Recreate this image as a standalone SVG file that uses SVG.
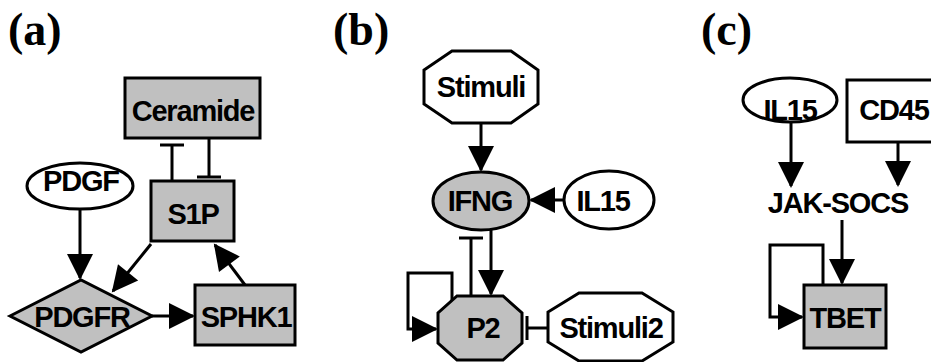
<svg xmlns="http://www.w3.org/2000/svg" width="931" height="362" viewBox="0 0 931 362">
<style>
.nd{stroke:#000;stroke-width:3}
.g{fill:#c0c0c0}
.w{fill:#fff}
.t{font-family:"Liberation Sans",Arial,sans-serif;font-weight:bold;font-size:29px;letter-spacing:-1.2px;text-anchor:middle;fill:#000}
.lb{font-family:"Liberation Serif","DejaVu Serif",serif;font-weight:bold;font-size:46px;fill:#000}
.e{fill:none;stroke:#000;stroke-width:3}
.a{marker-end:url(#arr)}
.i{marker-end:url(#bar)}
</style>
<defs>
<marker id="arr" markerUnits="userSpaceOnUse" markerWidth="26" markerHeight="26" refX="24" refY="13" orient="auto" overflow="visible">
<path d="M0,0 L26,13 L0,26 Z" fill="#000"/>
</marker>
<marker id="bar" markerUnits="userSpaceOnUse" markerWidth="6" markerHeight="24" refX="0" refY="12" orient="auto" overflow="visible">
<path d="M0,0 L0,24" stroke="#000" stroke-width="3"/>
</marker>
</defs>
<text class="lb" x="8" y="45">(a)</text>
<text class="lb" x="333" y="45">(b)</text>
<text class="lb" x="701" y="45">(c)</text>
<g id="connectors">
<path class="e a" d="M80,209 L80,278"/>
<path class="e a" d="M151,244 L113,291"/>
<path class="e a" d="M152,316 L193,316"/>
<path class="e a" d="M245,285 L215,245"/>
<path class="e i" d="M172,181 L172,145"/>
<path class="e i" d="M209,138 L209,177"/>
<path class="e a" d="M481,123 L481,170"/>
<path class="e a" d="M564,200 L531,200"/>
<path class="e a" d="M491,230 L491,294"/>
<path class="e i" d="M471,296 L471,238"/>
<path class="e a" d="M452,301 L452,273 L408,273 L408,329 L436,329"/>
<path class="e i" d="M548,328 L527,328"/>
<path class="e a" d="M791,122 L791,186"/>
<path class="e a" d="M898,142 L898,185"/>
<path class="e a" d="M842,220 L842,283"/>
<path class="e a" d="M823,285 L823,245 L770,245 L770,317 L802,317"/>
</g>
<g id="Ceramide"><rect class="nd g" x="125" y="78" width="135" height="60"/><text class="t" x="193" y="121">Ceramide</text></g>
<g id="S1P"><rect class="nd g" x="151" y="181" width="83" height="60"/><text class="t" x="193" y="224">S1P</text></g>
<g id="PDGF"><ellipse class="nd w" cx="80" cy="186" rx="53" ry="23"/><text class="t" x="81" y="191">PDGF</text></g>
<g id="PDGFR"><polygon class="nd g" points="10,316 81,280 152,316 81,352"/><text class="t" x="82" y="327">PDGFR</text></g>
<g id="SPHK1"><rect class="nd g" x="195" y="285" width="100" height="60"/><text class="t" x="246" y="327">SPHK1</text></g>
<g id="Stimuli"><polygon class="nd w" points="452,51 511,51 538,70 538,104 511,123 452,123 424,104 424,70"/><text class="t" x="481" y="97">Stimuli</text></g>
<g id="IFNG"><ellipse class="nd g" cx="481" cy="201" rx="48" ry="29"/><text class="t" x="480" y="211">IFNG</text></g>
<g id="IL15b"><ellipse class="nd w" cx="609" cy="200" rx="45" ry="29"/><text class="t" x="603" y="211">IL15</text></g>
<g id="P2"><polygon class="nd g" points="457,296 503,296 522,313 522,343 503,360 457,360 438,343 438,313"/><text class="t" x="483" y="338">P2</text></g>
<g id="Stimuli2"><polygon class="nd w" points="579,293 642,293 673,312 673,342 642,361 579,361 548,342 548,312"/><text class="t" x="611" y="338">Stimuli2</text></g>
<g id="IL15c"><ellipse class="nd w" cx="790" cy="100" rx="47" ry="22"/><text class="t" x="790" y="120">IL15</text></g>
<g id="CD45"><rect class="nd w" x="847" y="80" width="120" height="62"/><text class="t" x="894" y="120">CD45</text></g>
<g id="JAK-SOCS"><text class="t" x="838" y="213">JAK-SOCS</text></g>
<g id="TBET"><rect class="nd g" x="804" y="285" width="82" height="63"/><text class="t" x="845" y="328">TBET</text></g>
</svg>
